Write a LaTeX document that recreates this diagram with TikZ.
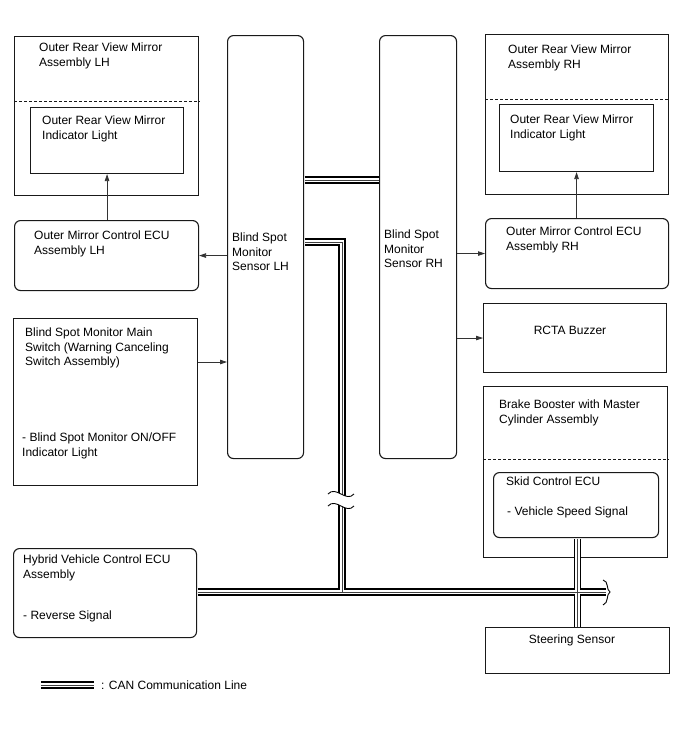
\documentclass[tikz,border=0pt]{standalone}
\usepackage{fontspec}
\setmainfont{Liberation Sans}
\usetikzlibrary{arrows.meta,positioning}

\begin{document}
\begin{tikzpicture}[x=1pt,y=-1pt,font=\fontsize{12}{14.5}\selectfont,
 box/.style={draw=black!90,line width=1.1pt,anchor=north west,inner sep=0pt},
 rbox/.style={box,rounded corners=6pt},
 txt/.style={anchor=north west,align=left,inner sep=0pt},
 sep/.style={draw=black!90,line width=0.9pt,dash pattern=on 3pt off 2pt},
 arr/.style={-{Triangle[length=7pt,width=4.5pt]},line width=0.75pt,draw=black!80},
 cut/.style={line width=0.9pt,draw=black}]
\useasboundingbox (0,0) rectangle (688,755);
% left column
\node[box,minimum width=184pt,minimum height=159pt] (mirL) at (14,36) {};
\node[box,minimum width=153pt,minimum height=66pt] (indL) at (30,107) {};
\node[rbox,minimum width=184pt,minimum height=70pt] (ecuL) at (14,220) {};
\node[box,minimum width=184pt,minimum height=167pt] (swt) at (13,318) {};
\node[rbox,minimum width=183pt,minimum height=89pt] (hyb) at (13,548) {};
\draw[sep] (mirL.west |- 0,101) -- (mirL.east |- 0,101);
\node[txt] (mirLt) at (39,43) {Outer Rear View Mirror\\Assembly LH};
\node[txt] (indLt) at (42,116) {Outer Rear View Mirror\\Indicator Light};
\node[txt] (ecuLt) at (34,231) {Outer Mirror Control ECU\\Assembly LH};
\node[txt] (swtA) at (25,328) {Blind Spot Monitor Main\\Switch (Warning Canceling\\Switch Assembly)};
\node[txt] (swtB) at (22,433) {- Blind Spot Monitor ON/OFF\\Indicator Light};
\node[txt] (hybA) at (23,555) {Hybrid Vehicle Control ECU\\Assembly};
\node[txt] (hybB) at (23,611) {- Reverse Signal};
% sensors
\node[rbox,minimum width=76pt,minimum height=423pt] (sensL) at (227,35) {};
\node[rbox,minimum width=77pt,minimum height=423pt] (sensR) at (379,35) {};
\node[txt] (sensLt) at (232,233) {Blind Spot\\Monitor\\Sensor LH};
\node[txt] (sensRt) at (384,230) {Blind Spot\\Monitor\\Sensor RH};
% right column
\node[box,minimum width=183pt,minimum height=160pt] (mirR) at (485,34) {};
\node[box,minimum width=154pt,minimum height=67pt] (indR) at (499,104) {};
\node[rbox,minimum width=183pt,minimum height=70pt] (ecuR) at (485,218) {};
\node[box,minimum width=183pt,minimum height=69pt] (buzz) at (483,303) {};
\node[box,minimum width=184pt,minimum height=171pt] (brake) at (483,386) {};
\node[rbox,minimum width=165pt,minimum height=65pt] (skid) at (493,472) {};
\node[box,minimum width=184pt,minimum height=46pt] (steer) at (485,627) {};
\draw[sep] (mirR.west |- 0,99) -- (mirR.east |- 0,99);
\draw[sep] (brake.west |- 0,459) -- (brake.east |- 0,459);
\node[txt] (mirRt) at (508,45) {Outer Rear View Mirror\\Assembly RH};
\node[txt] (indRt) at (510,115) {Outer Rear View Mirror\\Indicator Light};
\node[txt] (ecuRt) at (506,227) {Outer Mirror Control ECU\\Assembly RH};
\node[txt,anchor=north] (buzzt) at (570,326) {RCTA Buzzer};
\node[txt] (braket) at (499,400) {Brake Booster with Master\\Cylinder Assembly};
\node[txt] (skidA) at (506,477) {Skid Control ECU};
\node[txt] (skidB) at (507,507) {- Vehicle Speed Signal};
\node[txt,anchor=north] (steert) at (572,635) {Steering Sensor};
% signal lines
\coordinate (swtIn) at (0,362);
\draw[arr] (indL.south |- ecuL.north) -- (indL.south);
\draw[arr] (indR.south |- ecuR.north) -- (indR.south);
\draw[arr] (sensL.west |- ecuL.east) -- (ecuL.east);
\draw[arr] (swt.east |- swtIn) -- (sensL.west |- swtIn);
\draw[arr] (sensR.east |- ecuR.west) -- (ecuR.west);
\draw[arr] (sensR.east |- buzz.west) -- (buzz.west);
% CAN lines
\coordinate (canA) at (0,180);\coordinate (canB) at (0,242);
\coordinate (jL) at (342,592);\coordinate (busE) at (606,592);
\coordinate (lgA) at (41,685);\coordinate (lgB) at (94,685);
\foreach \w/\c in {7.6pt/black,4.2pt/white,1pt/black!75}{
  \draw[line width=\w,draw=\c] ([xshift=0.5pt]sensL.east |- canA) -- ([xshift=-0.5pt]sensR.west |- canA);
  \draw[line width=\w,draw=\c] ([xshift=0.5pt]sensL.east |- canB) -| (jL);
  \draw[line width=\w,draw=\c] ([xshift=0.5pt]hyb.east |- busE) -- (busE);
  \draw[line width=\w,draw=\c] ([yshift=-0.5pt]steer.north |- skid.south) -- ([yshift=0.5pt]steer.north);
  \draw[line width=\w,draw=\c] (lgA) -- (lgB);
}
\fill[white] (328,494) .. controls (336,485) and (346,503) .. (354,494) -- (354,506) .. controls (346,515) and (336,497) .. (328,506) -- cycle;
\draw[cut] (328,494) .. controls (336,485) and (346,503) .. (354,494);
\draw[cut] (328,506) .. controls (336,497) and (346,515) .. (354,506);
\draw[cut] (603,580) .. controls (609,581) and (606,590) .. (610,592) .. controls (606,594) and (609,603) .. (603,605);
\node[anchor=west,inner sep=0pt] (lgt) at (101,685) {: CAN Communication Line};
\end{tikzpicture}
\end{document}
